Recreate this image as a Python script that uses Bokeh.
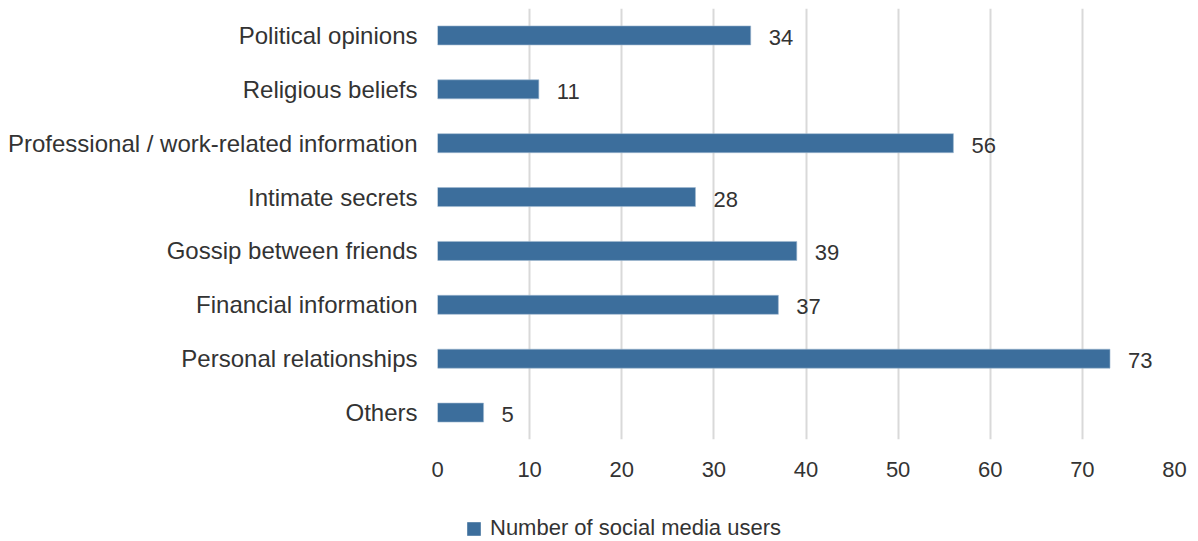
from bokeh.plotting import figure
from bokeh.models import ColumnDataSource, Range1d, FactorRange, Legend, LegendItem, FixedTicker
from bokeh.layouts import column
from bokeh.core.properties import value
from bokeh.embed import file_html
from bokeh.resources import INLINE

categories = ["Political opinions", "Religious beliefs", "Professional / work-related information",
              "Intimate secrets", "Gossip between friends", "Financial information",
              "Personal relationships", "Others"]
users = [34, 11, 56, 28, 39, 37, 73, 5]
x_ticks = [0, 10, 20, 30, 40, 50, 60, 70, 80]
series_name = "Number of social media users"

FONT = "Liberation Sans"
TXT = "#333333"
BAR = "#3c6e9c"

src = ColumnDataSource(dict(cat=categories, val=users, lab=[str(v) for v in users]))

p = figure(width=1198, height=480, output_backend="svg", toolbar_location=None,
           y_range=FactorRange(factors=list(reversed(categories)), range_padding=0),
           x_range=Range1d(0, 80),
           min_border_left=437, min_border_right=24, min_border_top=8, min_border_bottom=41)
p.outline_line_color = None

r = p.hbar(y="cat", right="val", left=0, height=0.353, source=src, fill_color=BAR,
           line_color="#9fb8d0", line_width=0.6)
p.text(x="val", y="cat", text="lab", source=src, x_offset=18, y_offset=2,
       text_align="left", text_baseline="middle", text_font=value(FONT),
       text_font_size="22px", text_color=TXT)

p.xaxis.ticker = FixedTicker(ticks=x_ticks)
p.xaxis.axis_line_color = None
p.xaxis.major_tick_line_color = None
p.xaxis.minor_tick_line_color = None
p.xaxis.major_label_text_font = FONT
p.xaxis.major_label_text_font_size = "22px"
p.xaxis.major_label_text_color = TXT
p.xaxis.major_label_standoff = 16

p.yaxis.axis_line_color = None
p.yaxis.major_tick_line_color = None
p.yaxis.major_label_text_font = FONT
p.yaxis.major_label_text_font_size = "24px"
p.yaxis.major_label_text_color = TXT
p.yaxis.major_label_standoff = 14

p.ygrid.grid_line_color = None
p.xgrid.grid_line_color = "#d9d9d9"
p.xgrid.grid_line_width = 2

# legend strip below the chart (its zero-height bars draw nothing; only the legend shows)
p2 = figure(width=1198, height=61, output_backend="svg", toolbar_location=None,
            x_range=Range1d(0, 80), y_range=FactorRange(factors=categories),
            min_border=0, x_axis_location=None, y_axis_location=None)
p2.outline_line_color = None
p2.xgrid.visible = False
p2.ygrid.visible = False
r2 = p2.hbar(y="cat", right="val", left=0, height=0, source=src, fill_color=BAR,
             line_color=None)
legend = Legend(items=[LegendItem(label=series_name, renderers=[r2])],
                location=(28, 0), orientation="horizontal",
                glyph_width=17, glyph_height=17, label_text_font=FONT,
                label_text_font_size="22px", label_text_color=TXT,
                border_line_color=None, background_fill_alpha=0,
                padding=0, margin=0, label_standoff=8)
p2.add_layout(legend, "center")

open("out.html", "w").write(file_html(column(p, p2, spacing=0), INLINE))
